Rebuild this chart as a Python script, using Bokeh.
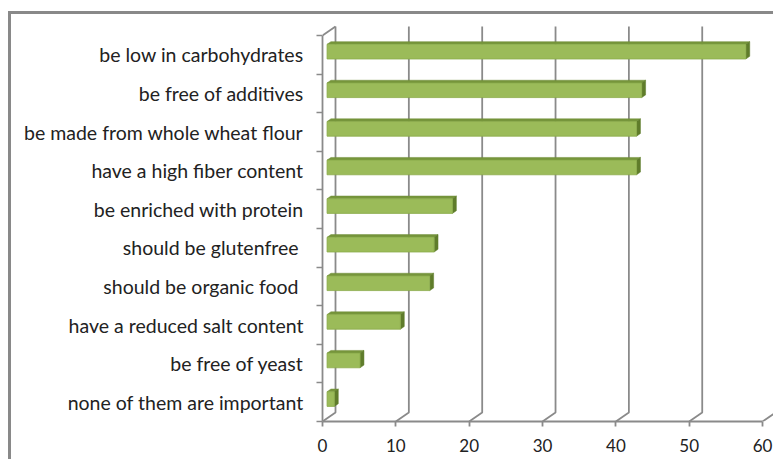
from bokeh.plotting import figure
from bokeh.models import Range1d, FixedTicker
from bokeh.embed import file_html
from bokeh.resources import INLINE

categories = [
    "be low in carbohydrates",
    "be free of additives",
    "be made from whole wheat flour",
    "have a high fiber content",
    "be enriched with protein",
    "should be glutenfree ",
    "should be organic food ",
    "have a reduced salt content",
    "be free of yeast",
    "none of them are important",
]
values = [57.1, 42.9, 42.2, 42.2, 17.1, 14.6, 14.0, 10.0, 4.5, 1.0]
x_ticks = [0, 10, 20, 30, 40, 50, 60]

n = len(categories)
# depth of the 3D box, in data units
DX = 1.773
DY = 0.233
F0, F1 = 0.35, 0.65
HALF = 0.19

GRID = "#8a8a8a"
TXT = "#222222"

p = figure(width=765, height=448, x_range=Range1d(0, 61.9), y_range=Range1d(0, 10.337),
           min_border_left=311, min_border_right=0, min_border_top=8, min_border_bottom=41,
           output_backend="svg", toolbar_location=None,
           styles={"border-left": "3px solid #898989", "border-top": "3px solid #898989",
                   "margin-top": "11px", "margin-left": "8px"})
p.xgrid.visible = False
p.ygrid.visible = False
p.outline_line_color = None
p.background_fill_color = "white"
p.border_fill_color = "white"

# back wall gridlines + floor diagonals
gxs, gys = [], []
for t in x_ticks:
    gxs.append([t, t + DX, t + DX])
    gys.append([0, DY, n + DY])
p.multi_line(gxs, gys, line_color=GRID, line_width=1.8)
# left wall top diagonal
p.line([0, DX], [n, n + DY], line_color=GRID, line_width=1.8)

# bars
centers = [n - 0.5 - i for i in range(n)]
fx0 = [F0 * DX for _ in values]
fx1 = [v + F0 * DX for v in values]
fyb = [c - HALF + F0 * DY for c in centers]
fyt = [c + HALF + F0 * DY for c in centers]
ox = (F1 - F0) * DX
oy = (F1 - F0) * DY

top_xs = [[a, b, b + ox, a + ox] for a, b in zip(fx0, fx1)]
top_ys = [[t, t, t + oy, t + oy] for t in fyt]
cap_xs = [[b, b + ox, b + ox, b] for b in fx1]
cap_ys = [[bt, bt + oy, tp + oy, tp] for bt, tp in zip(fyb, fyt)]

p.patches(top_xs, top_ys, fill_color="#76953b", line_color="#6f8c37", line_width=0.5)
p.patches(cap_xs, cap_ys, fill_color="#5f7c2b", line_color="#5f7c2b", line_width=0.5)
p.quad(left=fx0, right=fx1, bottom=fyb, top=fyt, fill_color="#9bbb59",
       line_color="#8aab4a", line_width=0.8)

# x axis
xa = p.xaxis[0]
xa.ticker = FixedTicker(ticks=x_ticks)
xa.bounds = (0, 60)
xa.axis_line_color = GRID
xa.axis_line_width = 1.8
xa.major_tick_line_color = GRID
xa.major_tick_line_width = 1.8
xa.major_tick_out = 5
xa.major_tick_in = 0
xa.minor_tick_line_color = None
xa.major_label_standoff = 12
xa.major_label_text_font = "Lato"
xa.major_label_text_font_size = "17px"
xa.major_label_text_color = TXT

# y axis
ya = p.yaxis[0]
ya.ticker = FixedTicker(ticks=centers, minor_ticks=[float(k) for k in range(n + 1)])
ya.major_label_overrides = {c: lab for c, lab in zip(centers, categories)}
ya.bounds = (0, n)
ya.axis_line_color = GRID
ya.axis_line_width = 1.8
ya.major_tick_line_color = None
ya.major_tick_out = 0
ya.major_tick_in = 0
ya.minor_tick_line_color = GRID
ya.minor_tick_line_width = 1.5
ya.minor_tick_out = 6
ya.minor_tick_in = 0
ya.major_label_standoff = 13
ya.major_label_text_font = "Lato"
ya.major_label_text_font_size = "19.5px"
ya.major_label_text_color = TXT

open("out.html", "w").write(file_html(p, INLINE))
